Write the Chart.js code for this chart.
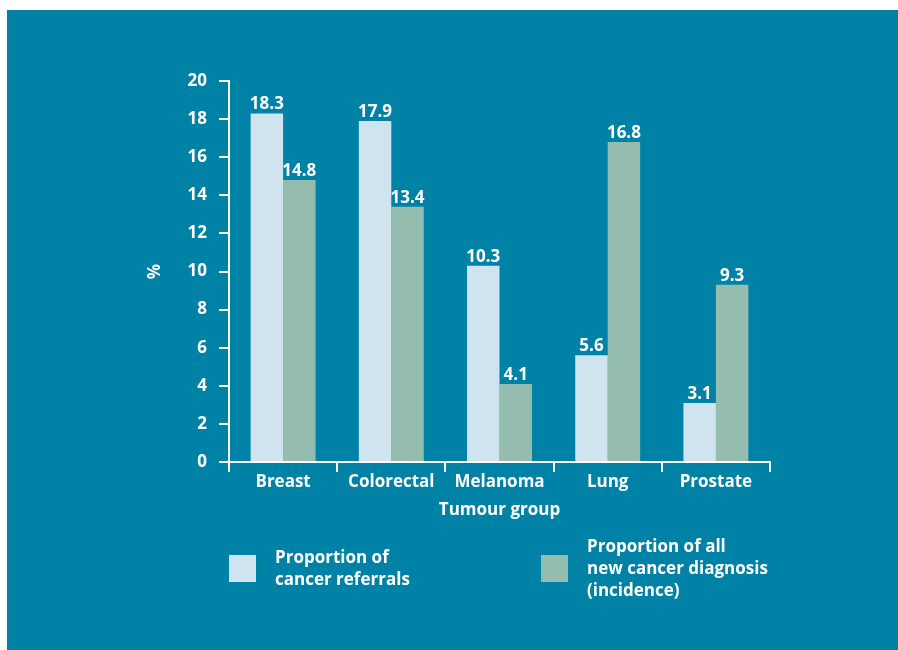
<!DOCTYPE html>
<html>
<head>
<meta charset="utf-8">
<script src="https://cdn.jsdelivr.net/npm/chart.js@4.4.0/dist/chart.umd.min.js"></script>
<style>
  html, body { margin: 0; padding: 0; background: #ffffff; }
  #wrap { position: relative; width: 898px; height: 650px; }
  #panel { position: absolute; left: 7px; top: 10px; right: 0; bottom: 0; background: #0082a6; }
  canvas { position: absolute; left: 0; top: 0; }
  .leg { position: absolute; display: flex; align-items: center; color: #fff;
         font-family: 'Open Sans', sans-serif; font-weight: bold; font-size: 17px; line-height: 22px; }
  .leg .box { width: 27px; height: 27px; margin-right: 19px; flex: none; }
</style>
</head>
<body>
<div id="wrap">
  <div id="panel"></div>
  <canvas id="c" width="898" height="650"></canvas>
  <div id="legend"></div>
</div>
<script>
const categories = ['Breast', 'Colorectal', 'Melanoma', 'Lung', 'Prostate'];
const referrals = [18.3, 17.9, 10.3, 5.6, 3.1];
const incidence = [14.8, 13.4, 4.1, 16.8, 9.3];
const seriesLabels = [['Proportion of', 'cancer referrals'], ['Proportion of all', 'new cancer diagnosis', '(incidence)']];
const seriesColors = ['#cfe4ee', '#94bdb0'];
const yTicks = [0, 2, 4, 6, 8, 10, 12, 14, 16, 18, 20];

const FONT = { family: "'Open Sans', sans-serif", size: 17, weight: 'bold' };

const valueLabels = {
  id: 'valueLabels',
  afterDatasetsDraw(chart) {
    const ctx = chart.ctx;
    ctx.save();
    ctx.fillStyle = '#ffffff';
    ctx.font = "bold 17px 'Open Sans', sans-serif";
    ctx.textAlign = 'center';
    ctx.textBaseline = 'alphabetic';
    chart.data.datasets.forEach((ds, i) => {
      const meta = chart.getDatasetMeta(i);
      meta.data.forEach((bar, j) => {
        ctx.fillText(ds.data[j].toFixed(1), bar.x, bar.y - 4);
      });
    });
    ctx.restore();
  }
};

new Chart(document.getElementById('c'), {
  type: 'bar',
  data: {
    labels: categories,
    datasets: [
      { label: seriesLabels[0].join(' '), data: referrals, backgroundColor: seriesColors[0] },
      { label: seriesLabels[1].join(' '), data: incidence, backgroundColor: seriesColors[1] }
    ]
  },
  options: {
    responsive: false,
    animation: false,
    layout: { padding: { left: 140, top: 81, right: 128, bottom: 128 } },
    plugins: { legend: { display: false }, tooltip: { enabled: false } },
    datasets: { bar: { categoryPercentage: 0.6, barPercentage: 1.0 } },
    scales: {
      x: {
        grid: { display: true, drawOnChartArea: false, drawTicks: true, tickLength: 10, color: '#ffffff', lineWidth: 2, offset: true },
        border: { display: true, color: '#ffffff', width: 2 },
        ticks: { color: '#ffffff', font: FONT, padding: 0, maxRotation: 0 },
        title: { display: true, text: 'Tumour group', color: '#ffffff', font: FONT, padding: { top: 0, bottom: 2 } },
        afterFit(s) { s.height = 60; }
      },
      y: {
        min: 0, max: 20,
        afterBuildTicks(s) { s.ticks = yTicks.map(v => ({ value: v })); },
        grid: { display: true, drawOnChartArea: false, drawTicks: true, tickLength: 10, color: '#ffffff', lineWidth: 2 },
        border: { display: true, color: '#ffffff', width: 2 },
        ticks: { color: '#ffffff', font: FONT, padding: 12 },
        title: { display: true, text: '%', color: '#ffffff', font: FONT, padding: { top: 5, bottom: 0 } },
        afterFit(s) { s.width = 89; }
      }
    }
  },
  plugins: [valueLabels]
});

// HTML legend built from series arrays
const legend = document.getElementById('legend');
const legPos = [{ left: 229, top: 546 }, { left: 541, top: 535 }];
seriesLabels.forEach((lines, i) => {
  const d = document.createElement('div');
  d.className = 'leg';
  d.style.left = legPos[i].left + 'px';
  d.style.top = legPos[i].top + 'px';
  const b = document.createElement('div');
  b.className = 'box';
  b.style.background = seriesColors[i];
  const t = document.createElement('div');
  t.innerHTML = lines.join('<br>');
  d.appendChild(b); d.appendChild(t);
  legend.appendChild(d);
});
</script>
</body>
</html>
